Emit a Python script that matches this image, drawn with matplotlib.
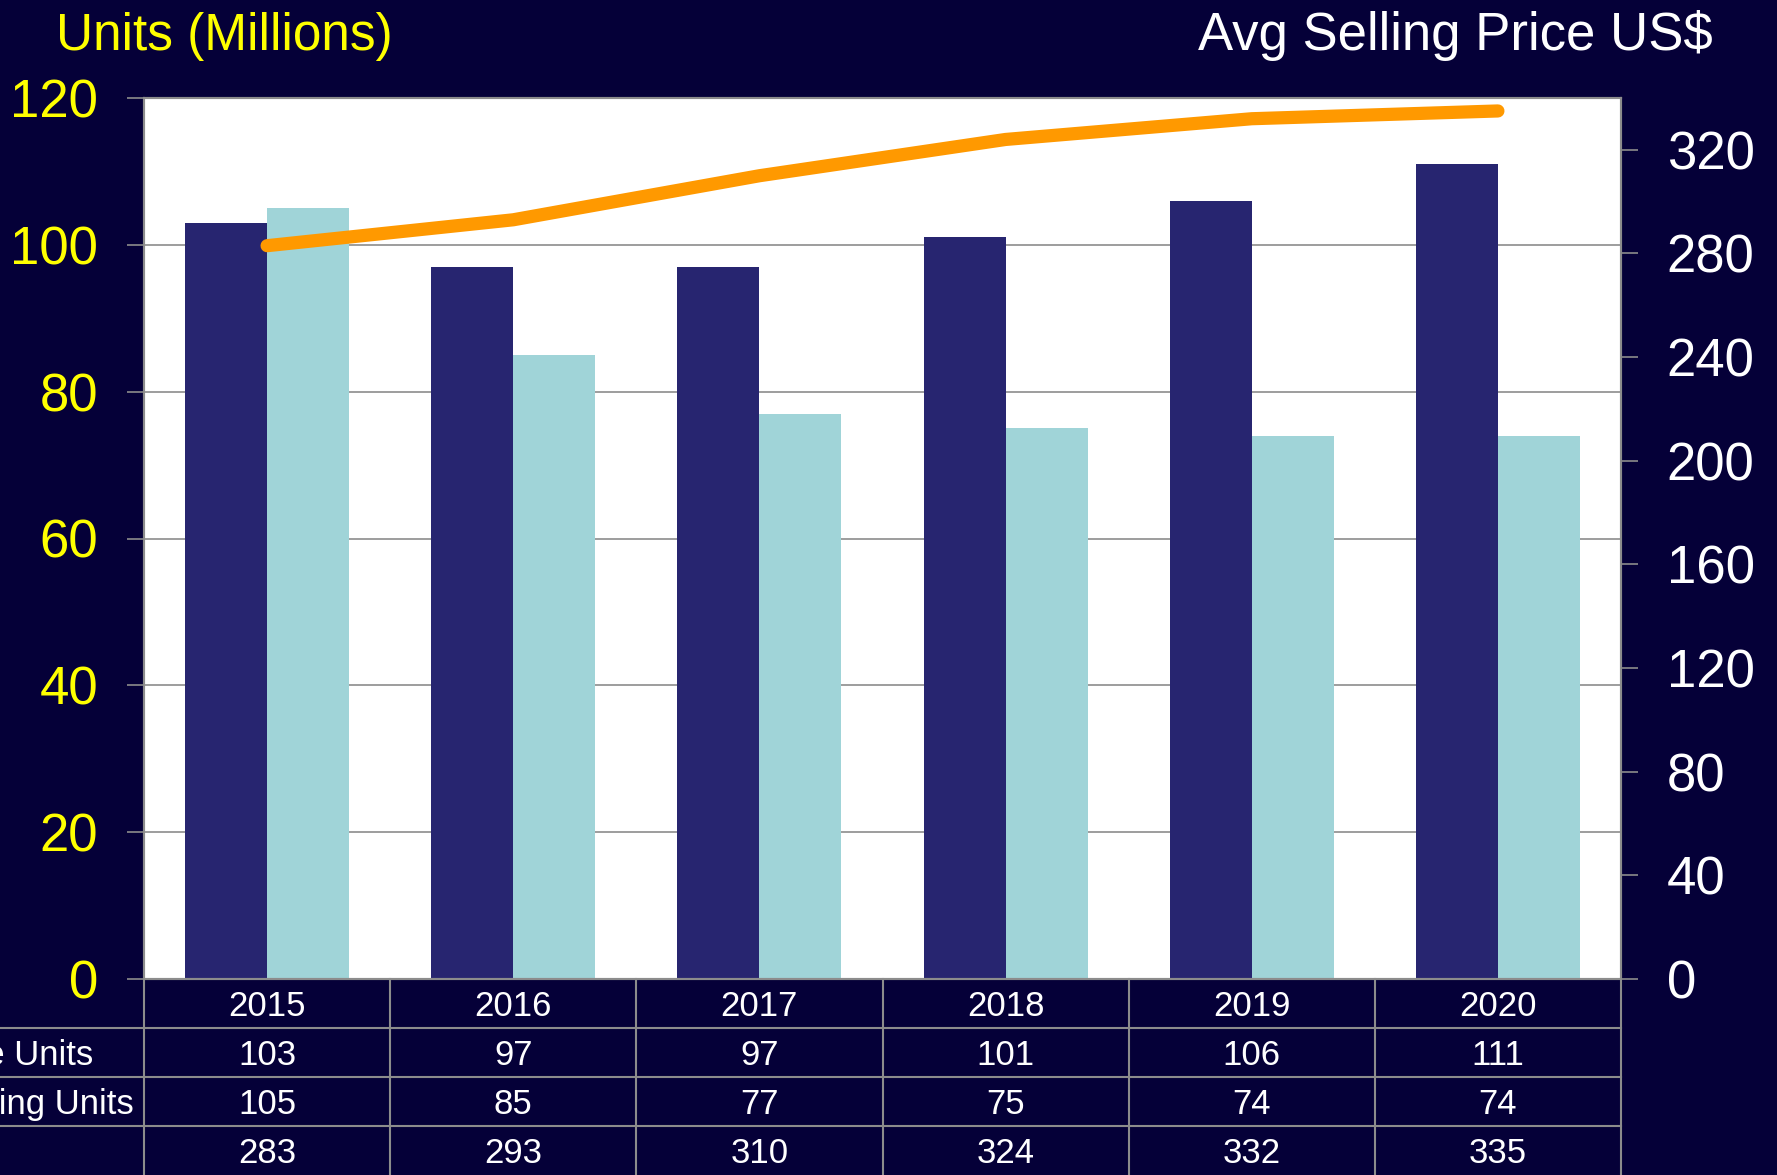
import numpy as np
import matplotlib.pyplot as plt

# data
years = ["2015", "2016", "2017", "2018", "2019", "2020"]
mobile_units = [103, 97, 97, 101, 106, 111]
desktop_units = [105, 85, 77, 75, 74, 74]
asp = [283, 293, 310, 324, 332, 335]
row_labels = ["Mobile Units", "Desktop Computing Units", ""]

BG = "#050038"
DARK = "#272570"
LIGHT = "#A0D4D8"
ORANGE = "#FF9900"
YELLOW = "#FFFF00"
GRID = "#8C8C8C"

plt.rcParams['font.family'] = ['Liberation Sans', 'DejaVu Sans']

fig = plt.figure(figsize=(17.77, 11.75), dpi=100, facecolor=BG)

# main chart
ax = fig.add_axes([144 / 1777, 196 / 1175, 1477 / 1777, 881 / 1175])
ax.set_facecolor("white")
x = np.arange(len(years))
w = 0.333
ax.bar(x - w / 2, mobile_units, width=w, color=DARK, zorder=2)
ax.bar(x + w / 2, desktop_units, width=w, color=LIGHT, zorder=2)
ax.set_xlim(-0.5, len(years) - 0.5)
ax.set_ylim(0, 120)
ax.set_yticks(range(0, 121, 20))
ax.yaxis.grid(True, color=GRID, linewidth=1.2, zorder=0)
ax.set_xticks([])
ax.tick_params(axis='y', colors=GRID, labelcolor=YELLOW, labelsize=38,
               length=12, width=1.2, pad=21)
for s in ax.spines.values():
    s.set_color(GRID)
    s.set_linewidth(1.5)

# price on the right axis
ax2 = ax.twinx()
ax2.plot(x, asp, color=ORANGE, linewidth=9.5, solid_capstyle='round', zorder=3)
ax2.set_ylim(0, 340)
ax2.set_yticks(range(0, 321, 40))
ax2.tick_params(axis='y', colors=GRID, labelcolor="white", labelsize=38,
                length=12, width=1.2, pad=21)
for s in ax2.spines.values():
    s.set_color(GRID)
    s.set_linewidth(1.5)

fig.text(56 / 1777, 1 - 50 / 1175, "Units (Millions)", color=YELLOW,
         fontsize=37, ha='left', va='baseline')
fig.text(1713 / 1777, 1 - 50 / 1175, "Avg Selling Price US$", color="white",
         fontsize=38, ha='right', va='baseline')

# data table under the chart
tab = fig.add_axes([144 / 1777, 0, 1477 / 1777, 196 / 1175])
tab.set_facecolor(BG)
tab.set_xlim(-0.5, len(years) - 0.5)
tab.set_ylim(4, 0)
tab.axis('off')

rows = [years, mobile_units, desktop_units, asp]
for r, vals in enumerate(rows):
    for c, v in enumerate(vals):
        tab.text(c, r + 0.56, str(v), color="white", fontsize=25,
                 ha='center', va='center')

for xb in np.arange(-0.5, len(years), 1.0):
    tab.plot([xb, xb], [0, 4], color=GRID, linewidth=1.5, clip_on=False)
for yb in [1, 2, 3]:
    tab.plot([-3, len(years) - 0.5], [yb, yb], color=GRID, linewidth=1.5,
             clip_on=False)

label_right = [93, 134, 134]
for i, lab in enumerate(row_labels):
    fig.text(label_right[i] / 1777, (196 - (i + 1.56) * 49) / 1175, lab,
             color="white", fontsize=25, ha='right', va='center')

fig.savefig("out.png", dpi=100, facecolor=BG)
